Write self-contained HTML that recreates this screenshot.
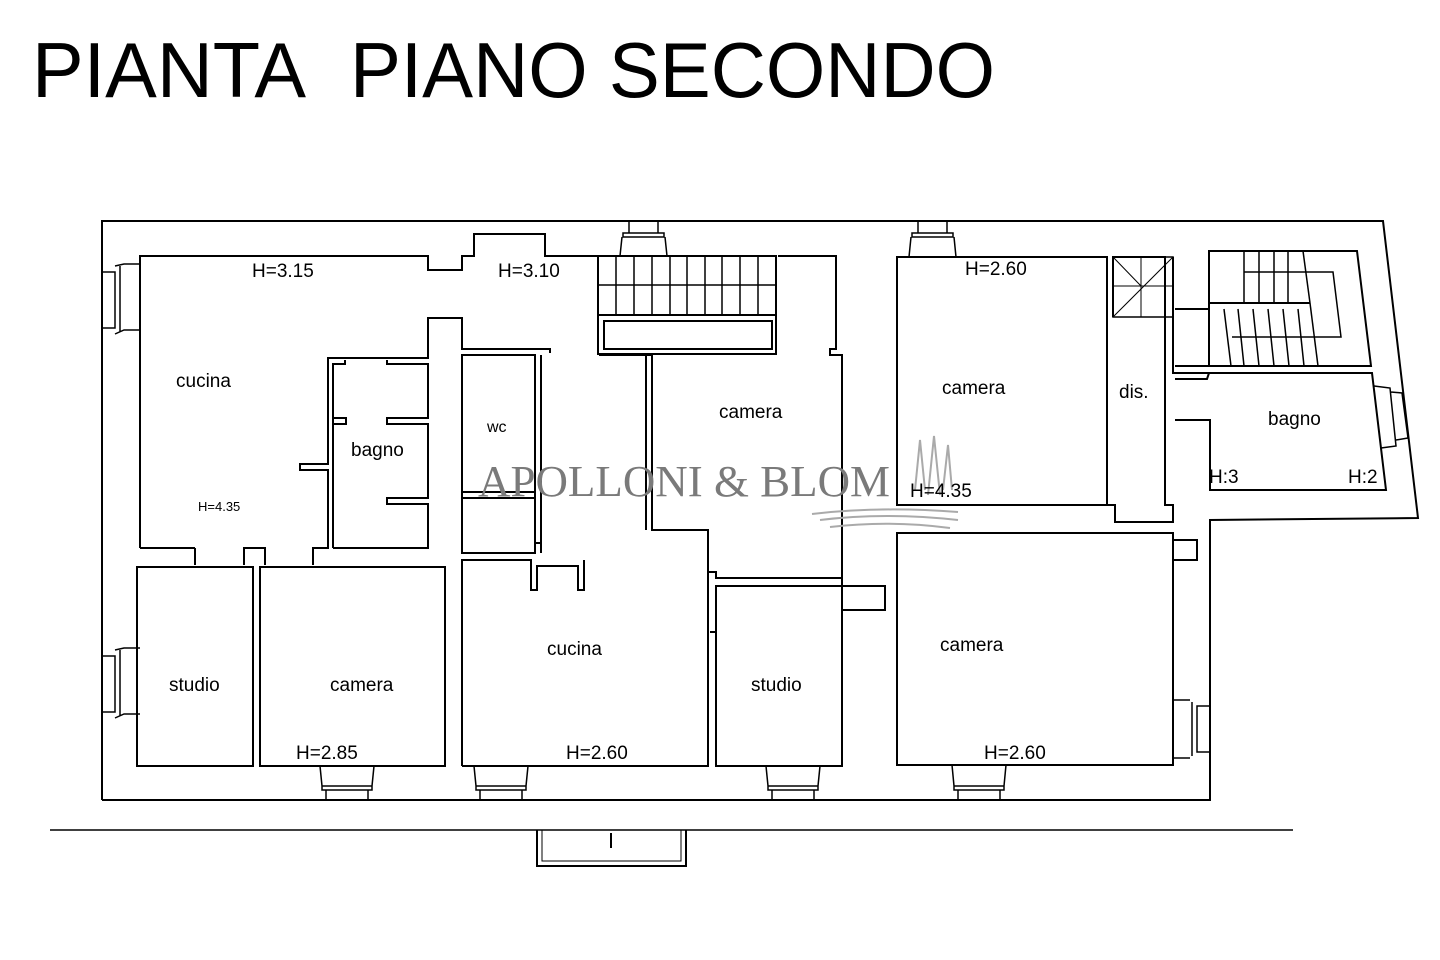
<!DOCTYPE html>
<html><head><meta charset="utf-8"><style>
html,body{margin:0;padding:0;background:#fff;width:1440px;height:960px;overflow:hidden}
svg{display:block}
text{font-family:"Liberation Sans",sans-serif;fill:#000}
text.wm{font-family:"Liberation Serif",serif;fill:#7a7a7a}
</style></head><body>
<svg width="1440" height="960" viewBox="0 0 1440 960" xmlns="http://www.w3.org/2000/svg">
<rect width="1440" height="960" fill="#fff"/>
<text x="32" y="97" font-size="78" textLength="274" lengthAdjust="spacingAndGlyphs">PIANTA</text>
<text x="350" y="97" font-size="78" textLength="645" lengthAdjust="spacingAndGlyphs">PIANO SECONDO</text>
<g fill="none" stroke="#000" stroke-width="2">
<polyline points="102,800 102,221 1383,221 1418,518 1210,520 1210,800 102,800"/>
<line x1="50" y1="830" x2="1293" y2="830" stroke-width="1.5"/>
<polyline points="537,830 537,866 686,866 686,830"/>
<polyline points="542,830 542,861 681,861 681,830" stroke-width="1"/>
<line x1="611" y1="833" x2="611" y2="848"/>
<polyline points="140,548 140,256 428,256 428,270 462,270 462,256 474,256 474,234 545,234 545,256 598,256"/>
<polyline points="195,548 140,548"/>
<polyline points="195,548 195,565"/>
<polyline points="244,565 244,548 265,548 265,565"/>
<polyline points="313,565 313,548 328,548 328,470 300,470 300,464 328,464 328,358 428,358 428,318 462,318 462,349 550,349 550,353"/>
<polyline points="333,548 333,364 345,364 345,360"/>
<polyline points="387,360 387,364 428,364 428,418 387,418 387,424 428,424 428,498 387,498 387,504 428,504 428,548 333,548"/>
<polyline points="333,418 346,418 346,424 333,424"/>
<rect x="462" y="355" width="73" height="198"/>
<polyline points="541,355 541,548"/>
<line x1="462" y1="492" x2="535" y2="492"/>
<line x1="462" y1="498" x2="535" y2="498"/>
<polyline points="535,543 541,543 541,553"/>
<rect x="137" y="567" width="116" height="199"/>
<rect x="260" y="567" width="185" height="199"/>
<polyline points="462,766 462,560 531,560 531,590 537,590 537,566 578,566 578,590 584,590 584,560"/>
<polyline points="462,766 708,766 708,578"/>
<polyline points="716,766 716,632 710,632"/>
<rect x="716" y="586" width="126" height="180"/>
<polyline points="842,586 885,586 885,610 842,610"/>
<polyline points="708,578 708,530 652,530 652,355 599,355"/>
<polyline points="646,355 646,530"/>
<polyline points="708,572 716,572 716,578 842,578 842,355 830,355 830,349 836,349 836,256 778,256"/>
<polyline points="842,578 842,586"/>
<rect x="598" y="256" width="178" height="98"/>
<rect x="604" y="321" width="168" height="28"/>
<line x1="598" y1="315" x2="776" y2="315"/>
<line x1="598" y1="285" x2="776" y2="285" stroke-width="1.5"/>
<g stroke-width="1.5">
<line x1="616" y1="256" x2="616" y2="315"/><line x1="634" y1="256" x2="634" y2="315"/><line x1="652" y1="256" x2="652" y2="315"/><line x1="670" y1="256" x2="670" y2="315"/><line x1="687" y1="256" x2="687" y2="315"/><line x1="705" y1="256" x2="705" y2="315"/><line x1="722" y1="256" x2="722" y2="315"/><line x1="740" y1="256" x2="740" y2="315"/><line x1="758" y1="256" x2="758" y2="315"/>
</g>
<rect x="897" y="257" width="210" height="248"/>
<rect x="897" y="533" width="276" height="232"/>
<polyline points="1173,533 1173,540 1197,540 1197,560 1173,560"/>
<polyline points="1107,505 1115,505 1115,522 1173,522 1173,505 1165,505 1165,257 1113,257 1113,317"/>
<polyline points="1173,257 1173,373 1210,373"/>
<rect x="1113" y="257" width="60" height="60" stroke-width="1.5"/>
<line x1="1113" y1="317" x2="1173" y2="257" stroke-width="1"/>
<line x1="1113" y1="257" x2="1141" y2="286" stroke-width="1"/>
<line x1="1113" y1="286" x2="1173" y2="286" stroke-width="1"/>
<line x1="1141" y1="257" x2="1141" y2="317" stroke-width="1"/>
<polyline points="1175,309 1209,309 1209,251 1357,251 1371,366 1175,366"/>
<polyline points="1209,309 1209,366"/>
<line x1="1209" y1="303" x2="1310" y2="303"/>
<polyline points="1244,272 1333,272 1341,337 1232,337" stroke-width="1.5"/>
<g stroke-width="1.5">
<line x1="1244" y1="251" x2="1244" y2="303"/><line x1="1259" y1="251" x2="1259" y2="303"/><line x1="1274" y1="251" x2="1274" y2="303"/><line x1="1288" y1="251" x2="1288" y2="303"/><line x1="1303" y1="251" x2="1310" y2="303"/>
<line x1="1224" y1="309" x2="1231" y2="366"/><line x1="1238" y1="309" x2="1244" y2="366"/><line x1="1253" y1="309" x2="1259" y2="366"/><line x1="1268" y1="309" x2="1274" y2="366"/><line x1="1283" y1="309" x2="1289" y2="366"/><line x1="1298" y1="309" x2="1304" y2="366"/><line x1="1310" y1="303" x2="1318" y2="366"/>
</g>
<polyline points="1175,379 1207,379 1209,373 1372,373 1386,490 1210,490 1210,420 1175,420"/>
<g stroke-width="1.5">
<path d="M102,272 H115 V328 H102 M115,266 L124,264 H140 M115,334 L124,330 H140 M120,266 V332"/>
<path d="M102,656 H115 V712 H102 M115,650 L124,648 H140 M115,718 L124,714 H140 M120,650 V716"/>
<path d="M1210,706 H1197 V752 H1210 M1192,702 V756 M1173,700 H1190 M1173,758 H1190"/>
<path d="M629,221 V233 M658,221 V233 M623,233 H664 V237 H623 Z M620,256 L622,237 M665,237 L667,256"/>
<path d="M918,221 V233 M947,221 V233 M912,233 H953 V237 H912 Z M909,257 L911,237 M954,237 L956,257"/>
<path d="M320,766 L322,786 M374,766 L372,786 M322,786 H372 V790 H322 Z M326,790 V800 M368,790 V800"/>
<path d="M474,766 L476,786 M528,766 L526,786 M476,786 H526 V790 H476 Z M480,790 V800 M522,790 V800"/>
<path d="M766,766 L768,786 M820,766 L818,786 M768,786 H818 V790 H768 Z M772,790 V800 M814,790 V800"/>
<path d="M952,765 L954,786 M1006,765 L1004,786 M954,786 H1004 V790 H954 Z M958,790 V800 M1000,790 V800"/>
<path d="M1374,386 L1390,388 L1396,446 L1381,448 M1391,392 L1402,393 L1408,438 L1396,440"/>
</g>
</g>
<text class="wm" x="478" y="496" font-size="44" textLength="412" lengthAdjust="spacingAndGlyphs">APOLLONI &amp; BLOM</text>
<g stroke="#aaa" stroke-width="2" fill="none">
<path d="M915,490 L920,440 L925,490 M928,495 L934,436 L940,495 M943,490 L948,445 L952,490"/>
<path d="M812,514 Q880,506 958,512 M820,520 Q885,512 958,520 M830,527 Q890,520 950,528"/>
</g>
<g font-size="19">
<text x="252" y="277">H=3.15</text>
<text x="498" y="277">H=3.10</text>
<text x="965" y="275">H=2.60</text>
<text x="176" y="387">cucina</text>
<text x="351" y="456">bagno</text>
<text x="487" y="432" font-size="16">wc</text>
<text x="198" y="511" font-size="13">H=4.35</text>
<text x="719" y="418">camera</text>
<text x="942" y="394">camera</text>
<text x="1119" y="398">dis.</text>
<text x="1268" y="425">bagno</text>
<text x="1209" y="483">H:3</text>
<text x="1348" y="483">H:2</text>
<text x="910" y="497">H=4.35</text>
<text x="547" y="655">cucina</text>
<text x="169" y="691">studio</text>
<text x="330" y="691">camera</text>
<text x="751" y="691">studio</text>
<text x="940" y="651">camera</text>
<text x="296" y="759">H=2.85</text>
<text x="566" y="759">H=2.60</text>
<text x="984" y="759">H=2.60</text>
</g>
</svg>
</body></html>
